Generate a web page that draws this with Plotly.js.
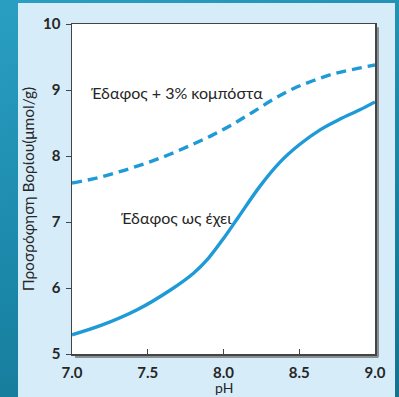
<!DOCTYPE html>
<html>
<head>
<meta charset="utf-8">
<script src="https://cdn.plot.ly/plotly-3.0.1.min.js"></script>
<style>
html,body{margin:0;padding:0;width:399px;height:397px;overflow:hidden;}
body{background:linear-gradient(160deg,#2a9fc2 0%,#1a86a8 55%,#14728f 100%);position:relative;}
#chart{position:absolute;left:18px;top:3px;width:377px;height:394px;}
</style>
</head>
<body>
<div id="chart"></div>
<script>
const phCompost = [7.0, 7.17, 7.34, 7.5, 7.65, 7.80, 7.93, 8.06, 8.19, 8.33, 8.46, 8.59, 8.72, 8.85, 9.0];
const compost = [7.59, 7.67, 7.78, 7.90, 8.03, 8.18, 8.32, 8.48, 8.66, 8.86, 9.02, 9.14, 9.24, 9.31, 9.38];
const phSoil = [7.0, 7.2, 7.43, 7.65, 7.8, 7.9, 8.0, 8.1, 8.24, 8.37, 8.5, 8.64, 8.77, 8.9, 9.0];
const soil = [5.29, 5.44, 5.67, 5.97, 6.22, 6.45, 6.75, 7.08, 7.54, 7.90, 8.17, 8.40, 8.56, 8.70, 8.82];
const xTicks = [7.0, 7.5, 8.0, 8.5, 9.0];
const xTickText = ['7.0', '7.5', '8.0', '8.5', '9.0'];
const yTicks = [5, 6, 7, 8, 9, 10];
const labelCompost = 'Έδαφος + 3% κομπόστα';
const labelSoil = 'Έδαφος ως έχει';
const xTitle = 'pH';
const yTitle = 'Προσρόφηση Βορίου(μmol/g)';

const font = 'Lato, "Open Sans", sans-serif';
const lineColor = '#1e9ad6';
const textColor = '#262626';

const traces = [
  {x: phCompost, y: compost, mode: 'lines', line: {color: lineColor, width: 3.4, dash: '10px,6px', shape: 'spline', smoothing: 1}, hoverinfo: 'skip'},
  {x: phSoil, y: soil, mode: 'lines', line: {color: lineColor, width: 3.4, shape: 'spline', smoothing: 1}, hoverinfo: 'skip'}
];

const tickFont = {family: font, size: 15, color: textColor, weight: 'bold'};

const layout = {
  width: 377, height: 394,
  margin: {l: 54, r: 20, t: 21, b: 43},
  paper_bgcolor: '#d6ecf9',
  plot_bgcolor: '#ffffff',
  showlegend: false,
  font: {family: font, color: textColor, size: 13},
  xaxis: {
    range: [7, 9], tickvals: xTicks, ticktext: xTickText,
    ticks: 'inside', ticklen: 5, tickcolor: '#444', tickwidth: 1,
    showline: true, linecolor: '#444', linewidth: 1.5, mirror: true,
    showgrid: false, zeroline: false,
    tickfont: tickFont,
    ticklabelstandoff: 4,
    automargin: false, fixedrange: true
  },
  yaxis: {
    range: [5, 10], tickvals: yTicks,
    ticks: 'outside', ticklen: 5, tickcolor: '#444', tickwidth: 1,
    showline: true, linecolor: '#444', linewidth: 1.5, mirror: true,
    showgrid: false, zeroline: false,
    tickfont: tickFont,
    ticklabelstandoff: 2,
    title: {text: yTitle, font: {family: font, size: 15.5, color: textColor}, standoff: 4},
    automargin: false, fixedrange: true
  },
  shapes: [
    {type: 'rect', xref: 'paper', yref: 'paper', xsizemode: 'pixel', xanchor: 1, x0: 1, x1: 4, y0: -0.01, y1: 0.99, line: {width: 0}, fillcolor: '#8a8f94', layer: 'below'},
    {type: 'rect', xref: 'paper', yref: 'paper', ysizemode: 'pixel', yanchor: 0, y0: -4, y1: -1, x0: 0.01, x1: 1.01, line: {width: 0}, fillcolor: '#8a8f94', layer: 'below'}
  ],
  annotations: [
    {x: 7.11, y: 8.96, xref: 'x', yref: 'y', text: labelCompost, showarrow: false, xanchor: 'left', yanchor: 'middle', font: {family: font, size: 16, color: textColor}},
    {x: 7.31, y: 7.07, xref: 'x', yref: 'y', text: labelSoil, showarrow: false, xanchor: 'left', yanchor: 'middle', font: {family: font, size: 16, color: textColor}},
    {x: 0.5, y: 0, xref: 'paper', yref: 'paper', text: xTitle, showarrow: false, xanchor: 'center', yanchor: 'top', yshift: -24, borderpad: 0, font: {family: font, size: 14, color: textColor}}
  ]
};

Plotly.newPlot('chart', traces, layout, {displayModeBar: false, staticPlot: true});
</script>
</body>
</html>
